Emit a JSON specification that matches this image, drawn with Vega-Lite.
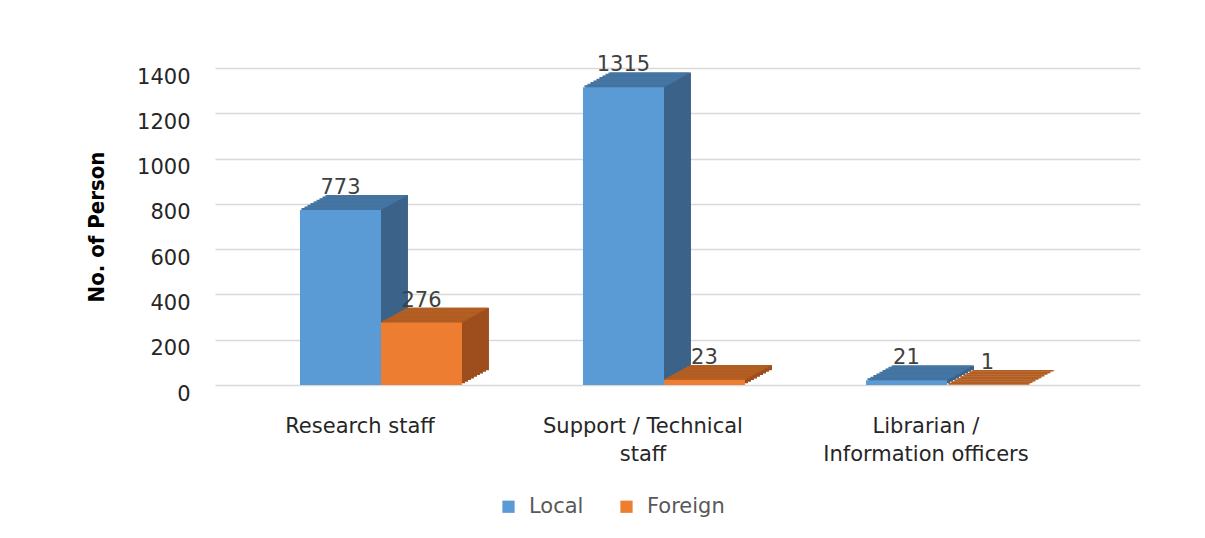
{
  "$schema": "https://vega.github.io/schema/vega-lite/v6.json",
  "width": 925,
  "height": 317,
  "autosize": "none",
  "padding": {"left": 215, "top": 68, "right": 65, "bottom": 153},
  "background": "white",
  "config": {"font": "DejaVu Sans", "view": {"stroke": null}},
  "data": {
    "values": [
      {"Category": "Research staff", "Type": "Local", "Value": 773},
      {"Category": "Research staff", "Type": "Foreign", "Value": 276},
      {"Category": "Support / Technical staff", "Type": "Local", "Value": 1315},
      {"Category": "Support / Technical staff", "Type": "Foreign", "Value": 23},
      {"Category": "Librarian / Information officers", "Type": "Local", "Value": 21},
      {"Category": "Librarian / Information officers", "Type": "Foreign", "Value": 1}
    ]
  },
  "encoding": {
    "x": {
      "field": "Category",
      "type": "nominal",
      "sort": ["Research staff", "Support / Technical staff", "Librarian / Information officers"],
      "scale": {"paddingInner": 0, "paddingOuter": 0.1343, "align": 0.322},
      "axis": {
        "title": null,
        "labelAngle": 0,
        "domain": false,
        "ticks": false,
        "labelFont": "DejaVu Sans",
        "labelFontSize": 21,
        "labelColor": "#262626",
        "labelPadding": 30,
        "labelOffset": -21,
        "labelLineHeight": 28,
        "labelLimit": 0,
        "labelExpr": "datum.value == 'Support / Technical staff' ? ['Support / Technical', 'staff'] : datum.value == 'Librarian / Information officers' ? ['Librarian /', 'Information officers'] : datum.value"
      }
    },
    "y": {
      "field": "Value",
      "type": "quantitative",
      "scale": {"domain": [0, 1400], "nice": false},
      "axis": {
        "values": [0, 200, 400, 600, 800, 1000, 1200, 1400],
        "format": "d",
        "domain": false,
        "ticks": false,
        "gridColor": "#d9d9d9",
        "gridWidth": 1.6,
        "labelFont": "DejaVu Sans",
        "labelFontSize": 21,
        "labelColor": "#262626",
        "labelPadding": 25,
        "labelOffset": 9,
        "title": "No. of Person",
        "titleFont": "DejaVu Sans Condensed, Liberation Sans, sans-serif",
        "titleFontSize": 22,
        "titleFontWeight": "bold",
        "titleColor": "#000000",
        "titlePadding": 28
      }
    }
  },
  "layer": [
    {
      "transform": [{"filter": "datum.Type == 'Local'"}],
      "layer": [
        {"mark": {"type": "bar", "width": {"band": 0.2862}, "color": "#3b6389", "xOffset": -13.5, "yOffset": -14.85, "y2Offset": -14.85}},
        {"mark": {"type": "bar", "width": {"band": 0.2862}, "color": "#3b6389", "xOffset": -16.5, "yOffset": -13.2, "y2Offset": -13.2}},
        {"mark": {"type": "bar", "width": {"band": 0.2862}, "color": "#3b6389", "xOffset": -19.5, "yOffset": -11.55, "y2Offset": -11.55}},
        {"mark": {"type": "bar", "width": {"band": 0.2862}, "color": "#3b6389", "xOffset": -22.5, "yOffset": -9.9, "y2Offset": -9.9}},
        {"mark": {"type": "bar", "width": {"band": 0.2862}, "color": "#3b6389", "xOffset": -25.5, "yOffset": -8.25, "y2Offset": -8.25}},
        {"mark": {"type": "bar", "width": {"band": 0.2862}, "color": "#3b6389", "xOffset": -28.5, "yOffset": -6.6, "y2Offset": -6.6}},
        {"mark": {"type": "bar", "width": {"band": 0.2862}, "color": "#3b6389", "xOffset": -31.5, "yOffset": -4.95, "y2Offset": -4.95}},
        {"mark": {"type": "bar", "width": {"band": 0.2862}, "color": "#3b6389", "xOffset": -34.5, "yOffset": -3.3, "y2Offset": -3.3}},
        {"mark": {"type": "bar", "width": {"band": 0.2862}, "color": "#3b6389", "xOffset": -37.5, "yOffset": -1.65, "y2Offset": -1.65}},
        {"mark": {"type": "bar", "width": {"band": 0.2862}, "color": "#4575a2", "xOffset": -39, "yOffset": -1.9, "y2Offset": 0}, "encoding": {"y2": {"field": "Value"}}},
        {"mark": {"type": "bar", "width": {"band": 0.2862}, "color": "#4575a2", "xOffset": -36, "yOffset": -3.55, "y2Offset": -1.65}, "encoding": {"y2": {"field": "Value"}}},
        {"mark": {"type": "bar", "width": {"band": 0.2862}, "color": "#4575a2", "xOffset": -33, "yOffset": -5.2, "y2Offset": -3.3}, "encoding": {"y2": {"field": "Value"}}},
        {"mark": {"type": "bar", "width": {"band": 0.2862}, "color": "#4575a2", "xOffset": -30, "yOffset": -6.85, "y2Offset": -4.95}, "encoding": {"y2": {"field": "Value"}}},
        {"mark": {"type": "bar", "width": {"band": 0.2862}, "color": "#4575a2", "xOffset": -27, "yOffset": -8.5, "y2Offset": -6.6}, "encoding": {"y2": {"field": "Value"}}},
        {"mark": {"type": "bar", "width": {"band": 0.2862}, "color": "#4575a2", "xOffset": -24, "yOffset": -10.15, "y2Offset": -8.25}, "encoding": {"y2": {"field": "Value"}}},
        {"mark": {"type": "bar", "width": {"band": 0.2862}, "color": "#4575a2", "xOffset": -21, "yOffset": -11.8, "y2Offset": -9.9}, "encoding": {"y2": {"field": "Value"}}},
        {"mark": {"type": "bar", "width": {"band": 0.2862}, "color": "#4575a2", "xOffset": -18, "yOffset": -13.45, "y2Offset": -11.55}, "encoding": {"y2": {"field": "Value"}}},
        {"mark": {"type": "bar", "width": {"band": 0.2862}, "color": "#4575a2", "xOffset": -15, "yOffset": -14.85, "y2Offset": -13.2}, "encoding": {"y2": {"field": "Value"}}}
      ]
    },
    {
      "transform": [{"filter": "datum.Type == 'Foreign'"}],
      "layer": [
        {"mark": {"type": "bar", "width": {"band": 0.2862}, "color": "#9d4e1c", "xOffset": 67.5, "yOffset": -14.85, "y2Offset": -14.85}},
        {"mark": {"type": "bar", "width": {"band": 0.2862}, "color": "#9d4e1c", "xOffset": 64.5, "yOffset": -13.2, "y2Offset": -13.2}},
        {"mark": {"type": "bar", "width": {"band": 0.2862}, "color": "#9d4e1c", "xOffset": 61.5, "yOffset": -11.55, "y2Offset": -11.55}},
        {"mark": {"type": "bar", "width": {"band": 0.2862}, "color": "#9d4e1c", "xOffset": 58.5, "yOffset": -9.9, "y2Offset": -9.9}},
        {"mark": {"type": "bar", "width": {"band": 0.2862}, "color": "#9d4e1c", "xOffset": 55.5, "yOffset": -8.25, "y2Offset": -8.25}},
        {"mark": {"type": "bar", "width": {"band": 0.2862}, "color": "#9d4e1c", "xOffset": 52.5, "yOffset": -6.6, "y2Offset": -6.6}},
        {"mark": {"type": "bar", "width": {"band": 0.2862}, "color": "#9d4e1c", "xOffset": 49.5, "yOffset": -4.95, "y2Offset": -4.95}},
        {"mark": {"type": "bar", "width": {"band": 0.2862}, "color": "#9d4e1c", "xOffset": 46.5, "yOffset": -3.3, "y2Offset": -3.3}},
        {"mark": {"type": "bar", "width": {"band": 0.2862}, "color": "#9d4e1c", "xOffset": 43.5, "yOffset": -1.65, "y2Offset": -1.65}},
        {"mark": {"type": "bar", "width": {"band": 0.2862}, "color": "#b35e23", "xOffset": 42, "yOffset": -1.9, "y2Offset": 0}, "encoding": {"y2": {"field": "Value"}}},
        {"mark": {"type": "bar", "width": {"band": 0.2862}, "color": "#b35e23", "xOffset": 45, "yOffset": -3.55, "y2Offset": -1.65}, "encoding": {"y2": {"field": "Value"}}},
        {"mark": {"type": "bar", "width": {"band": 0.2862}, "color": "#b35e23", "xOffset": 48, "yOffset": -5.2, "y2Offset": -3.3}, "encoding": {"y2": {"field": "Value"}}},
        {"mark": {"type": "bar", "width": {"band": 0.2862}, "color": "#b35e23", "xOffset": 51, "yOffset": -6.85, "y2Offset": -4.95}, "encoding": {"y2": {"field": "Value"}}},
        {"mark": {"type": "bar", "width": {"band": 0.2862}, "color": "#b35e23", "xOffset": 54, "yOffset": -8.5, "y2Offset": -6.6}, "encoding": {"y2": {"field": "Value"}}},
        {"mark": {"type": "bar", "width": {"band": 0.2862}, "color": "#b35e23", "xOffset": 57, "yOffset": -10.15, "y2Offset": -8.25}, "encoding": {"y2": {"field": "Value"}}},
        {"mark": {"type": "bar", "width": {"band": 0.2862}, "color": "#b35e23", "xOffset": 60, "yOffset": -11.8, "y2Offset": -9.9}, "encoding": {"y2": {"field": "Value"}}},
        {"mark": {"type": "bar", "width": {"band": 0.2862}, "color": "#b35e23", "xOffset": 63, "yOffset": -13.45, "y2Offset": -11.55}, "encoding": {"y2": {"field": "Value"}}},
        {"mark": {"type": "bar", "width": {"band": 0.2862}, "color": "#b35e23", "xOffset": 66, "yOffset": -14.85, "y2Offset": -13.2}, "encoding": {"y2": {"field": "Value"}}}
      ]
    },
    {
      "mark": {"type": "bar"},
      "encoding": {
        "xOffset": {"field": "Type", "sort": ["Local", "Foreign"], "scale": {"paddingInner": 0, "paddingOuter": 0.747}},
        "color": {
          "field": "Type",
          "type": "nominal",
          "sort": ["Local", "Foreign"],
          "scale": {"domain": ["Local", "Foreign"], "range": ["#5b9bd5", "#ed7d31"]},
          "legend": {
            "orient": "none",
            "legendX": 283,
            "legendY": 428,
            "direction": "horizontal",
            "title": null,
            "padding": 0,
            "symbolType": "square",
            "symbolSize": 150,
            "symbolStrokeWidth": 0,
            "labelFont": "DejaVu Sans",
            "labelFontSize": 21,
            "labelColor": "#595959",
            "labelOffset": 10,
            "columnPadding": 32
          }
        }
      }
    },
    {
      "mark": {"type": "text", "dy": -16, "baseline": "alphabetic", "fontSize": 21, "font": "DejaVu Sans", "color": "#404040"},
      "encoding": {
        "xOffset": {"field": "Type", "sort": ["Local", "Foreign"], "scale": {"paddingInner": 0, "paddingOuter": 0.747}},
        "text": {"field": "Value", "type": "quantitative", "format": "d"}
      }
    }
  ]
}
